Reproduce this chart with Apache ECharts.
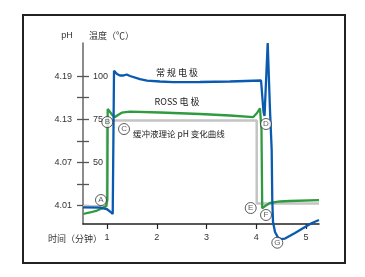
<!DOCTYPE html>
<html>
<head>
<meta charset="utf-8">
<script src="https://cdn.jsdelivr.net/npm/echarts@6/dist/echarts.min.js"></script>
<style>
  html, body { margin: 0; padding: 0; background: #fff; }
  #chart { width: 365px; height: 277px; }
</style>
</head>
<body>
<div id="chart"></div>
<script>
// 数据（时间：分钟，纵轴：pH）
const phTicks = [4.01, 4.04, 4.07, 4.10, 4.13, 4.16, 4.19]
const phLabels = [4.01, 4.07, 4.13, 4.19]
const tempLabels = [50, 75, 100]
const timeTicks = [1, 2, 3, 4, 5]

// 常规电极
const blueT = [0.518, 0.86, 0.994, 1.06, 1.115, 1.13, 1.141, 1.20, 1.261, 1.32, 1.396, 1.462, 1.663, 1.804, 2.065, 2.327, 2.87, 3.47, 4.096, 4.146, 4.166, 4.23, 4.276, 4.31, 4.322, 4.337, 4.377, 4.437, 4.497, 4.578, 4.779, 4.98, 5.12, 5.261]
const bluePH = [4.0075, 4.0072, 4.0051, 4.0017, 3.9982, 3.999, 4.1974, 4.1928, 4.1907, 4.1907, 4.1921, 4.190, 4.1858, 4.1835, 4.1824, 4.1814, 4.1817, 4.1824, 4.1838, 4.140, 4.1344, 4.2359, 4.1427, 4.0871, 4.0176, 3.987, 3.9732, 3.9655, 3.9634, 3.9641, 3.9718, 3.980, 3.9857, 3.9898]

// ROSS 电极
const greenT = [0.518, 0.658, 0.799, 0.92, 0.98, 1.006, 1.014, 1.04, 1.10, 1.16, 1.221, 1.295, 1.462, 2.065, 2.87, 3.47, 3.94, 4.015, 4.075, 4.105, 4.12, 4.176, 4.276, 4.477, 4.678, 5.261]
const greenPH = [3.9982, 4.0003, 4.003, 4.0065, 4.0093, 4.0176, 4.1441, 4.1427, 4.1365, 4.133, 4.1358, 4.139, 4.1404, 4.1393, 4.1372, 4.1351, 4.133, 4.1386, 4.1451, 4.115, 4.0061, 4.0093, 4.0135, 4.0156, 4.0163, 4.0176]

// 缓冲液理论 pH 变化曲线
const grayT = [0.518, 1.0, 1.0, 4.009, 4.009, 5.261]
const grayPH = [4.009, 4.009, 4.1282, 4.1282, 4.0128, 4.0128]

// 标记点
const markNames = ['A', 'B', 'C', 'D', 'E', 'F', 'G']
const markT = [0.879, 1.006, 1.342, 4.196, 3.888, 4.196, 4.423]
const markPH = [4.0176, 4.126, 4.1163, 4.1233, 4.0065, 3.9968, 3.9583]

const phMin = 3.9843
const phMax = 4.2359
const toTemp = ph => 100 + (ph - 4.19) / 0.06 * 25

const zip = (a, b) => a.map((v, i) => [v, b[i]])

const cjk = '"Noto Sans CJK SC", sans-serif'
const latin = '"Liberation Sans", Arial, sans-serif'

var myChart = echarts.init(document.getElementById('chart'))
var option = {
  animation: false,
  grid: { left: 83, top: 43, right: 46, bottom: 53 },
  xAxis: {
    type: 'value',
    min: 0.5176,
    max: 5.261,
    splitLine: { show: false },
    axisLine: { lineStyle: { color: '#222', width: 1.5 } },
    axisTick: {
      customValues: timeTicks,
      length: 5,
      lineStyle: { color: '#222', width: 1.2 }
    },
    axisLabel: {
      customValues: timeTicks,
      color: '#333',
      fontSize: 9,
      fontFamily: latin,
      margin: 9
    }
  },
  yAxis: [{
    type: 'value',
    min: phMin,
    max: phMax,
    splitLine: { show: false },
    axisLine: { show: true, lineStyle: { color: '#666', width: 1.5 } },
    axisTick: {
      customValues: phTicks,
      length: 6,
      lineStyle: { color: '#555', width: 1.3 }
    },
    axisLabel: {
      customValues: phLabels,
      formatter: v => v.toFixed(2),
      color: '#333',
      fontSize: 9,
      fontFamily: latin,
      margin: 11
    }
  }, {
    type: 'value',
    position: 'left',
    min: toTemp(phMin),
    max: toTemp(phMax),
    splitLine: { show: false },
    axisLine: { show: false },
    axisTick: {
      inside: true,
      customValues: phTicks.map(toTemp),
      length: 6,
      lineStyle: { color: '#555', width: 1.3 }
    },
    axisLabel: {
      inside: true,
      customValues: tempLabels,
      color: '#333',
      fontSize: 9,
      fontFamily: latin,
      margin: 10
    }
  }],
  series: [{
    name: '缓冲液理论 pH 变化曲线',
    type: 'line',
    data: zip(grayT, grayPH),
    showSymbol: false,
    clip: false,
    lineStyle: { color: '#c4c4c4', width: 2.5 }
  }, {
    name: 'ROSS 电极',
    type: 'line',
    data: zip(greenT, greenPH),
    showSymbol: false,
    clip: false,
    lineStyle: { color: '#2f9a3f', width: 2.3 }
  }, {
    name: '常规电极',
    type: 'line',
    data: zip(blueT, bluePH),
    showSymbol: false,
    clip: false,
    lineStyle: { color: '#0a5bb0', width: 2.3 }
  }, {
    type: 'scatter',
    data: markNames.map((n, i) => ({ name: n, value: [markT[i], markPH[i]] })),
    symbol: 'circle',
    symbolSize: 11,
    clip: false,
    z: 5,
    itemStyle: { color: '#fff', borderColor: '#333', borderWidth: 1 },
    label: {
      show: true,
      position: 'inside',
      formatter: p => p.name,
      color: '#333',
      fontSize: 8,
      fontFamily: latin
    }
  }],
  graphic: [
    { type: 'rect', shape: { x: 23, y: 15, width: 322, height: 248 }, style: { fill: 'none', stroke: '#222', lineWidth: 2 } },
    { type: 'text', x: 67, y: 36, style: { text: 'pH', font: '9px ' + latin, fill: '#333', align: 'center', verticalAlign: 'middle' } },
    { type: 'text', x: 89, y: 36, style: { text: '温度（℃）', font: '9px ' + cjk, fill: '#333', align: 'left', verticalAlign: 'middle' } },
    { type: 'text', x: 102, y: 239, style: { text: '时间（分钟）', font: '9px ' + cjk, fill: '#333', align: 'right', verticalAlign: 'middle' } },
    { type: 'text', x: 177, y: 73, style: { text: '常 规 电 极', font: '9px ' + cjk, fill: '#222', align: 'center', verticalAlign: 'middle' } },
    { type: 'text', x: 177, y: 102, style: { text: 'ROSS 电 极', font: '9px ' + cjk, fill: '#222', align: 'center', verticalAlign: 'middle' } },
    { type: 'text', x: 133, y: 134, style: { text: '缓冲液理论 pH 变化曲线', font: '8.5px ' + cjk, fill: '#222', align: 'left', verticalAlign: 'middle' } }
  ]
}
myChart.setOption(option)
</script>
</body>
</html>
